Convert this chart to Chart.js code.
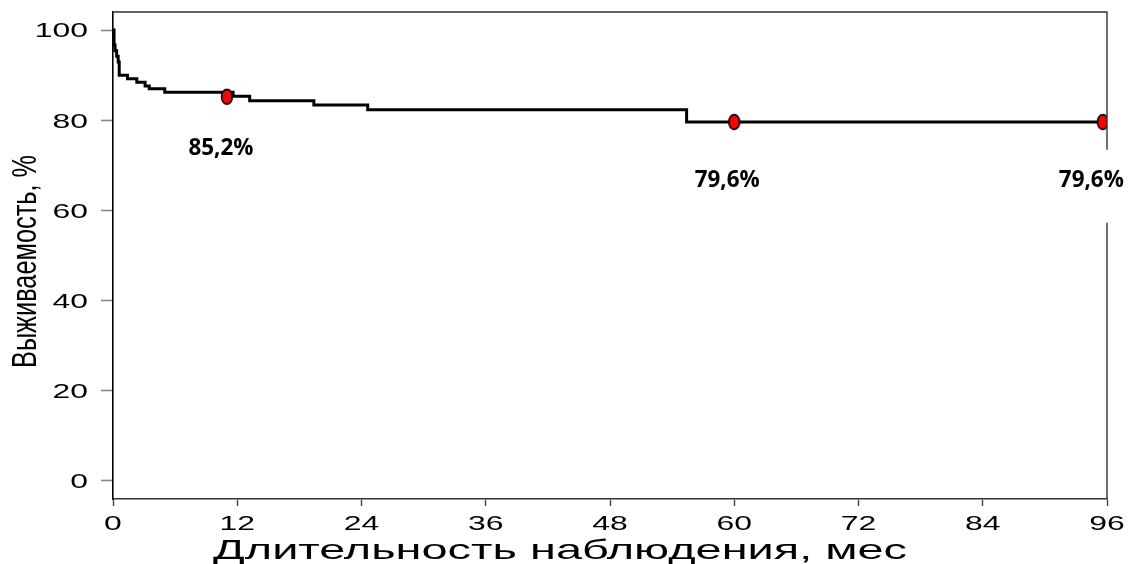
<!DOCTYPE html>
<html lang="ru">
<head>
<meta charset="utf-8">
<title>Выживаемость</title>
<script src="https://cdn.jsdelivr.net/npm/chart.js@4.4.1/dist/chart.umd.min.js"></script>
<style>
  html, body { margin: 0; padding: 0; background: #ffffff; }
  #wrap { width: 1128px; height: 564px; }
</style>
</head>
<body>
<div id="wrap"><canvas id="km" width="1128" height="564"></canvas></div>
<script>
// Kaplan–Meier curve: event times (months) and survival (%)
const months   = [0, 0.1, 0.2, 0.35, 0.5, 0.6, 1.4, 2.3, 3.1, 3.5, 5.0, 11.6, 13.2, 19.4, 24.6, 55.4, 96];
const survival = [100, 96.7, 95.4, 94.2, 92.9, 90.0, 89.2, 88.4, 87.6, 87.0, 86.2, 85.3, 84.3, 83.4, 82.3, 79.6, 79.6];

// Highlighted time points and their survival values
const markMonths = [11, 60, 95.6];
const markValues = [85.2, 79.6, 79.6];

// Axis ticks
const xTicks = [0, 12, 24, 36, 48, 60, 72, 84, 96];
const yTicks = [0, 20, 40, 60, 80, 100];

const xTitle = 'Длительность наблюдения, мес';
const yTitle = 'Выживаемость, %';

const fmtPct = v => v.toFixed(1).replace('.', ',') + '%';

// Red oval marker with black outline
function ovalMarker() {
  const c = document.createElement('canvas');
  c.width = 14; c.height = 18;
  const g = c.getContext('2d');
  g.beginPath();
  g.ellipse(7, 9, 5.4, 7.4, 0, 0, Math.PI * 2);
  g.fillStyle = '#ff0000';
  g.fill();
  g.lineWidth = 1.6;
  g.strokeStyle = '#000000';
  g.stroke();
  return c;
}

// Draw text with independent horizontal / vertical scaling
function drawText(ctx, text, x, y, o) {
  ctx.save();
  ctx.translate(x, y);
  if (o.rot) ctx.rotate(o.rot);
  ctx.font = o.font;
  let sx = o.sx || 1;
  if (o.width) sx = o.width / ctx.measureText(text).width;
  ctx.scale(sx, o.sy || 1);
  ctx.textAlign = o.align || 'center';
  ctx.textBaseline = o.baseline || 'alphabetic';
  ctx.fillStyle = o.color || '#000000';
  ctx.fillText(text, 0, 0);
  ctx.restore();
}

const textPlugin = {
  id: 'kmText',
  afterDraw(chart) {
    const ctx = chart.ctx;
    const a = chart.chartArea;
    const xs = chart.scales.x, ys = chart.scales.y;

    // top and right frame
    ctx.save();
    ctx.strokeStyle = '#333333';
    ctx.lineWidth = 1.4;
    ctx.beginPath();
    ctx.moveTo(a.left, a.top);
    ctx.lineTo(a.right, a.top);
    ctx.lineTo(a.right, a.bottom);
    ctx.stroke();
    ctx.restore();

    // tick labels
    const tickFont = '400 21px "Liberation Sans", Arial, sans-serif';
    ys.ticks.forEach(t => {
      drawText(ctx, String(t.value), 88, ys.getPixelForValue(t.value) + 1.5,
        { font: tickFont, sx: 1.52, align: 'right', baseline: 'middle' });
    });
    xs.ticks.forEach(t => {
      drawText(ctx, String(t.value), xs.getPixelForValue(t.value), 530,
        { font: tickFont, sx: 1.52, align: 'center' });
    });

    // axis titles
    drawText(ctx, xTitle, 560, 558.5,
      { font: '400 28px "Liberation Sans", Arial, sans-serif', width: 694 });
    drawText(ctx, yTitle, 36, 261.5,
      { font: '400 26px "Liberation Sans", Arial, sans-serif', width: 213, sy: 1.32, rot: -Math.PI / 2 });

    // value labels under the highlighted points
    const offs = [[-6, 58], [-7, 64.7], [-11.5, 64.7]];
    const boxed = [false, false, true];
    markMonths.forEach((m, i) => {
      const px = xs.getPixelForValue(m) + offs[i][0];
      const py = ys.getPixelForValue(markValues[i]) + offs[i][1];
      if (boxed[i]) {
        ctx.save();
        ctx.fillStyle = '#ffffff';
        ctx.fillRect(px - 40, py - 37, 80, 73);
        ctx.restore();
      }
      drawText(ctx, fmtPct(markValues[i]), px, py,
        { font: '700 23px "Open Sans", Lato, sans-serif', width: 65 });
    });
  }
};

const curve = months.map((m, i) => ({ x: m, y: survival[i] }));
const marks = markMonths.map((m, i) => ({ x: m, y: markValues[i] }));

new Chart(document.getElementById('km'), {
  type: 'scatter',
  data: {
    datasets: [
      {
        label: 'points',
        data: marks,
        showLine: false,
        pointStyle: ovalMarker(),
        pointRadius: 7,
        pointHoverRadius: 7
      },
      {
        label: 'survival',
        data: curve,
        showLine: true,
        stepped: true,
        borderColor: '#000000',
        borderWidth: 3,
        pointRadius: 0,
        pointHoverRadius: 0,
        fill: false
      }
    ]
  },
  options: {
    responsive: false,
    animation: false,
    events: [],
    layout: { padding: { top: 12, right: 21, left: 0, bottom: 0 } },
    plugins: { legend: { display: false }, tooltip: { enabled: false } },
    scales: {
      x: {
        type: 'linear',
        min: 0,
        max: 96,
        afterBuildTicks: s => { s.ticks = xTicks.map(v => ({ value: v })); },
        afterFit: s => { s.height = 65; },
        ticks: { display: false },
        grid: { drawOnChartArea: false, drawTicks: true, tickLength: 7, color: '#444444', tickColor: '#444444', tickWidth: 1.4 },
        border: { display: true, color: '#333333', width: 1.6 }
      },
      y: {
        type: 'linear',
        min: -4,
        max: 104,
        afterBuildTicks: s => { s.ticks = yTicks.map(v => ({ value: v })); },
        afterFit: s => { s.width = 113; },
        ticks: { display: false },
        grid: { drawOnChartArea: false, drawTicks: true, tickLength: 12, color: '#888888', tickColor: '#888888', tickWidth: 1.6 },
        border: { display: true, color: '#000000', width: 1.6 }
      }
    }
  },
  plugins: [textPlugin]
});
</script>
</body>
</html>
